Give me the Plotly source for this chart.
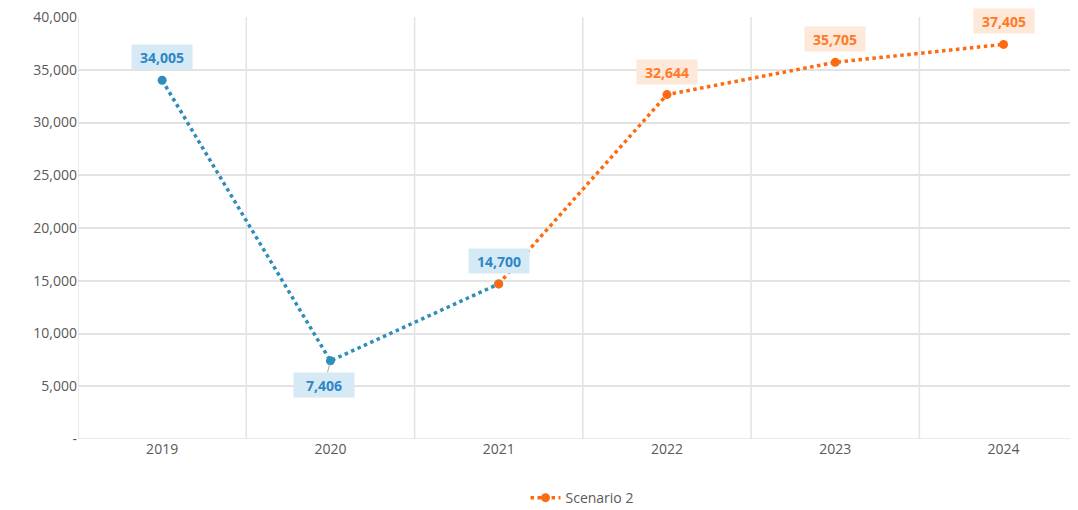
import plotly.graph_objects as go

years = ["2019", "2020", "2021", "2022", "2023", "2024"]
actual_years = ["2019", "2020", "2021"]
actual_vals = [34005, 7406, 14700]
scen_years = ["2021", "2022", "2023", "2024"]
scen_vals = [14700, 32644, 35705, 37405]
ytick_vals = [0, 5000, 10000, 15000, 20000, 25000, 30000, 35000, 40000]
ytick_text = ["-", "5,000", "10,000", "15,000", "20,000", "25,000", "30,000", "35,000", "40,000"]

blue = "#2E8DBA"
orange = "#FF6A10"
blue_txt = "#2F86C8"
orange_txt = "#FF7A26"
blue_bg = "#D5EAF4"
orange_bg = "#FDE8DA"
grid = "#E3E3E3"
idx = {y: i for i, y in enumerate(years)}

fig = go.Figure()
fig.add_trace(go.Scatter(
    x=[idx[y] for y in actual_years], y=actual_vals, mode="lines+markers",
    line=dict(color=blue, width=3.5, dash="dot"),
    marker=dict(color=blue, size=9), showlegend=False, hoverinfo="skip"))
fig.add_trace(go.Scatter(
    x=[idx[y] for y in scen_years], y=scen_vals, mode="lines+markers",
    line=dict(color=orange, width=3.5, dash="dot"),
    marker=dict(color=orange, size=9), name="Scenario 2"))

annotations = []
labels = [(y, v, blue_txt, blue_bg) for y, v in zip(actual_years, actual_vals)]
labels += [(y, v, orange_txt, orange_bg) for y, v in zip(scen_years[1:], scen_vals[1:])]
for y, v, tc, bg in labels:
    below = (y == "2020")
    a = dict(
        x=idx[y], y=v, xref="x", yref="y", text="<b>{:,}</b>".format(v),
        font=dict(color=tc, size=14, family="Open Sans"),
        bgcolor=bg, width=58, height=22, borderpad=1)
    if below:
        a.update(showarrow=True, arrowhead=0, ax=-6, ay=24, arrowcolor="#A6A6A6",
                 arrowwidth=1, standoff=3)
    else:
        a.update(showarrow=False, yshift=23)
    annotations.append(a)

fig.update_layout(
    width=1078, height=510,
    margin=dict(l=70, r=0, t=9, b=79),
    paper_bgcolor="white", plot_bgcolor="white",
    font=dict(family="Open Sans", color="#595959", size=14),
    xaxis=dict(range=[-0.5, 5.49], tickvals=list(range(6)), ticktext=years,
               showgrid=False, zeroline=False, showline=False, ticks="",
               automargin=False, tickfont=dict(size=14, color="#595959")),
    yaxis=dict(range=[0, 40000], tickvals=ytick_vals, ticktext=ytick_text,
               showgrid=True, gridcolor=grid, gridwidth=1.5, zeroline=False,
               showline=False, ticks="", ticklen=0, ticklabeloverflow="allow",
               automargin=False, tickfont=dict(size=14, color="#595959")),
    legend=dict(orientation="h", x=0.5, xanchor="center", y=-0.14, yanchor="middle",
                font=dict(size=14, color="#595959")),
    annotations=annotations,
    showlegend=True,
)
for b in [-0.5, 0.5, 1.5, 2.5, 3.5, 4.5]:
    fig.add_shape(type="line", xref="x", yref="y", x0=b, x1=b, y0=0, y1=40000,
                  line=dict(color=grid, width=1.5), layer="below")
fig.add_shape(type="line", xref="paper", yref="y", x0=0, x1=1, y0=0, y1=0,
              line=dict(color=grid, width=1.5), layer="below")

fig.write_html("out.html")
